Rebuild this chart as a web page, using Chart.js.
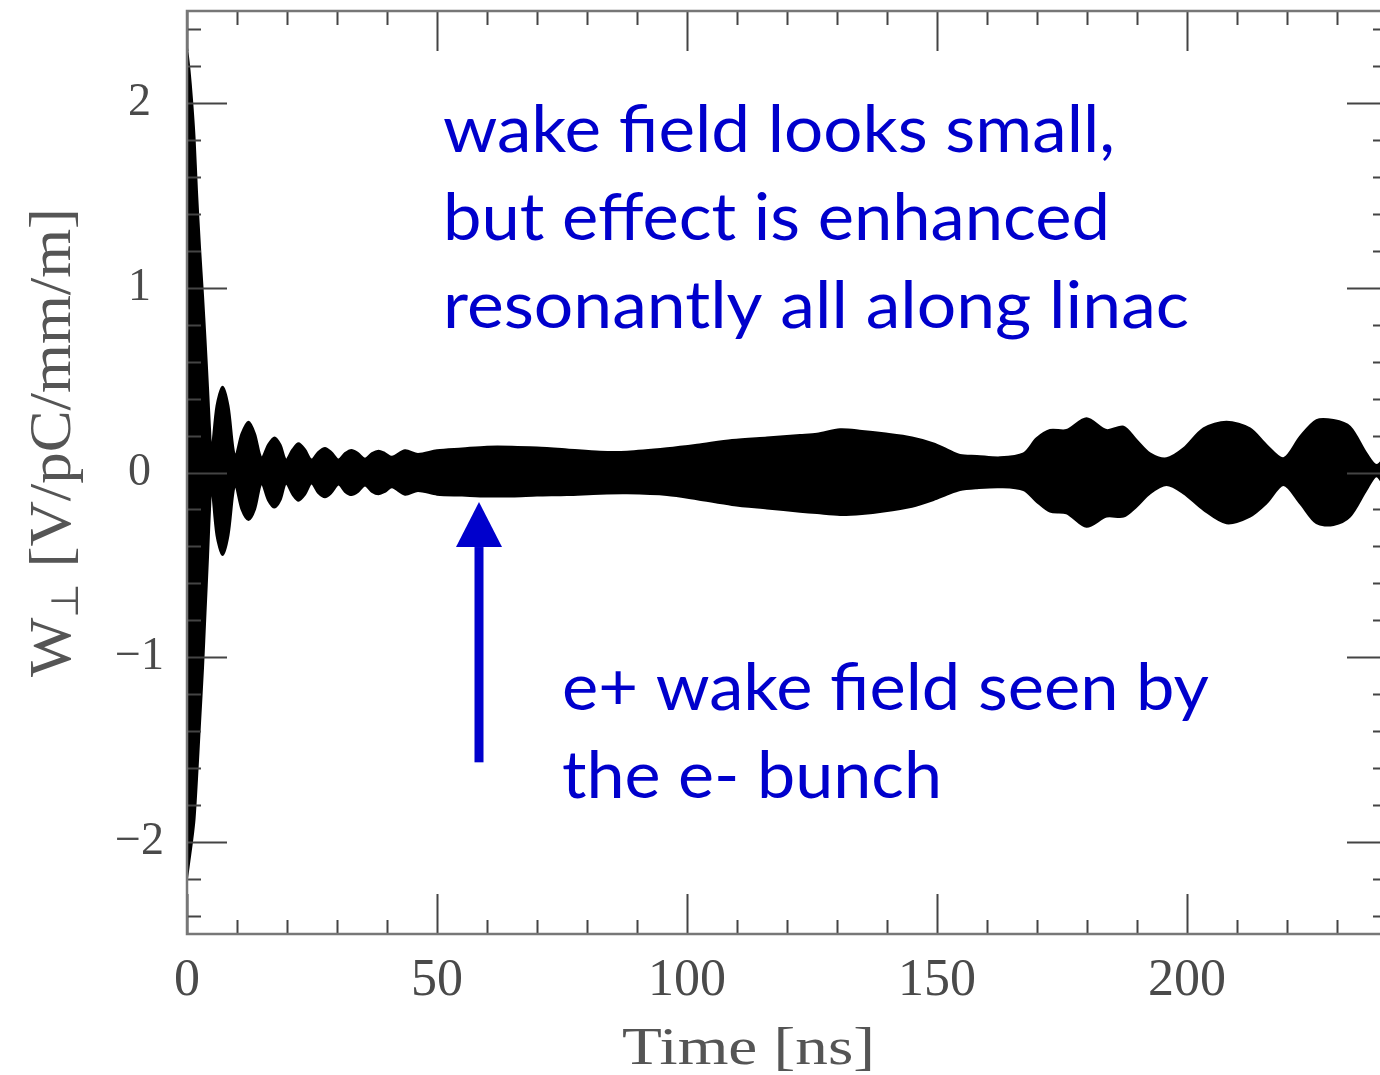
<!DOCTYPE html>
<html>
<head>
<meta charset="utf-8">
<script src="https://cdn.jsdelivr.net/npm/chart.js@4.4.1/dist/chart.umd.min.js"></script>
<style>
  html, body { margin: 0; padding: 0; background: #fff; overflow: hidden; }
  #wake_chart { display: block; }
</style>
</head>
<body>
<canvas id="wake_chart" width="1392" height="1075"></canvas>
<script>
// envelope of the e+ transverse wake
const time_ns = [
  0, 0.5, 1.0, 1.5, 2.0, 2.6, 3.2, 3.7, 4.2, 4.6, 4.9,
  5.9, 7.1, 8.3, 9.6,
  10.9, 12.3, 13.6, 14.9,
  16.2, 17.5, 18.7, 19.8,
  21.1, 22.3, 23.6, 24.9,
  26.2, 27.6, 28.9, 30.3,
  31.6, 32.9, 34.2, 35.6,
  37.0, 38.3, 39.6, 41.0,
  43.6, 46.2,
  50, 55, 60, 65, 70, 76, 82.6, 88, 96, 102, 109,
  116, 122.6, 126, 130.6, 135, 139.3, 145, 149.3, 152,
  154.6, 158, 162.6, 167.3, 169.9,
  172.6, 175.9, 179.9, 183.9, 187.3, 189.9,
  192.6, 195.9, 199.3, 203.3, 207.9, 212.6,
  215.9, 219.3, 222.6, 225.9, 229.3, 232.6,
  235.9, 237.9, 240
];
const upper_env = [
  2.30, 2.18, 2.02, 1.82, 1.52, 1.22, 0.96, 0.72, 0.46, 0.24, 0.12,
  0.36, 0.465, 0.36, 0.09,
  0.21, 0.275, 0.21, 0.08,
  0.15, 0.19, 0.15, 0.07,
  0.125, 0.158, 0.125, 0.07,
  0.11, 0.133, 0.11, 0.07,
  0.105, 0.122, 0.105, 0.075,
  0.105, 0.118, 0.105, 0.085,
  0.12, 0.10,
  0.12, 0.13, 0.14, 0.14, 0.135, 0.125, 0.113, 0.113, 0.131, 0.15, 0.176,
  0.19, 0.203, 0.21, 0.234, 0.225, 0.212, 0.19, 0.158, 0.125,
  0.095, 0.09, 0.082, 0.104, 0.185,
  0.23, 0.23, 0.294, 0.23, 0.248, 0.176,
  0.104, 0.077, 0.131, 0.239, 0.275, 0.239,
  0.149, 0.077, 0.194, 0.284, 0.284, 0.248,
  0.104, 0.04, 0.10
];
const lower_env = [
  -2.20, -2.10, -2.00, -1.88, -1.66, -1.36, -1.06, -0.76, -0.46, -0.20, -0.08,
  -0.34, -0.447, -0.34, -0.07,
  -0.20, -0.257, -0.20, -0.06,
  -0.15, -0.19, -0.15, -0.06,
  -0.12, -0.153, -0.12, -0.06,
  -0.11, -0.134, -0.11, -0.065,
  -0.105, -0.122, -0.105, -0.07,
  -0.105, -0.118, -0.105, -0.08,
  -0.12, -0.10,
  -0.12, -0.125, -0.13, -0.13, -0.125, -0.122, -0.115, -0.113, -0.122, -0.145, -0.176,
  -0.195, -0.212, -0.22, -0.23, -0.225, -0.212, -0.185, -0.149, -0.12,
  -0.095, -0.085, -0.08, -0.095, -0.158,
  -0.212, -0.221, -0.294, -0.239, -0.239, -0.185,
  -0.113, -0.068, -0.113, -0.203, -0.275, -0.239,
  -0.167, -0.068, -0.167, -0.275, -0.284, -0.239,
  -0.095, -0.02, -0.10
];
const x_tick_labels = [0, 50, 100, 150, 200];
const y_tick_labels = [-2, -1, 0, 1, 2];

const axis_font = 'Liberation Serif';
const note_blue = '#0000cc';

function to_points(ys) {
  return time_ns.map((t, i) => ({ x: t, y: ys[i] }));
}

// text squeezed/stretched to the width it has in the picture
function draw_fit(ctx, text, x, y, width, font) {
  ctx.save();
  ctx.font = font;
  const w = ctx.measureText(text).width;
  ctx.translate(x, y);
  ctx.scale(width / w, 1);
  ctx.fillText(text, 0, 0);
  ctx.restore();
}

const frame_plugin = {
  id: 'frame_plugin',
  afterDraw(chart) {
    const ctx = chart.ctx;
    const xs = chart.scales.x;
    const ys = chart.scales.y;
    const { left, right, top, bottom } = chart.chartArea;

    ctx.save();
    // inward ticks on all four sides
    ctx.strokeStyle = '#444';
    ctx.lineWidth = 2;
    ctx.beginPath();
    for (let v = 0; v <= 240; v += 10) {
      const px = Math.round(xs.getPixelForValue(v)) + 0.5;
      const len = v % 50 === 0 ? 40 : 14;
      ctx.moveTo(px, bottom); ctx.lineTo(px, bottom - len);
      ctx.moveTo(px, top); ctx.lineTo(px, top + len);
    }
    for (let k = -12; k <= 12; k++) {
      const py = Math.round(ys.getPixelForValue(k * 0.2)) + 0.5;
      const len = k % 5 === 0 ? 40 : 14;
      ctx.moveTo(left, py); ctx.lineTo(left + len, py);
      ctx.moveTo(right, py); ctx.lineTo(right - len, py);
    }
    ctx.stroke();

    ctx.strokeStyle = '#777';
    ctx.lineWidth = 2.5;
    ctx.strokeRect(left, top, right - left, bottom - top);

    // axis titles
    ctx.fillStyle = '#555';
    ctx.textBaseline = 'alphabetic';
    ctx.textAlign = 'left';
    draw_fit(ctx, 'Time [ns]', 622, 1064, 253, '52px "' + axis_font + '"');

    ctx.save();
    ctx.translate(70, 677);
    ctx.rotate(-Math.PI / 2);
    ctx.font = '60px "' + axis_font + '"';
    const w_w = ctx.measureText('W').width;
    ctx.font = '38px "' + axis_font + '"';
    const perp_w = ctx.measureText('⊥').width;
    ctx.font = '60px "' + axis_font + '"';
    const rest = ' [V/pC/mm/m]';
    const rest_w = ctx.measureText(rest).width;
    const sx = 469 / (w_w + perp_w + rest_w);
    ctx.scale(sx, 1);
    ctx.fillText('W', 0, 0);
    ctx.font = '38px "' + axis_font + '"';
    ctx.fillText('⊥', w_w, 8);
    ctx.font = '60px "' + axis_font + '"';
    ctx.fillText(rest, w_w + perp_w, 0);
    ctx.restore();

    // annotations
    ctx.fillStyle = note_blue;
    const note_font = '66px Lato';
    draw_fit(ctx, 'wake field looks small,', 443, 152, 672, note_font);
    draw_fit(ctx, 'but effect is enhanced', 443, 240, 667, note_font);
    draw_fit(ctx, 'resonantly all along linac', 443, 328, 746, note_font);
    draw_fit(ctx, 'e+ wake field seen by', 562, 710, 647, note_font);
    draw_fit(ctx, 'the e- bunch', 562, 798, 380, note_font);

    const ax = xs.getPixelForValue(58.4);
    const tip = ys.getPixelForValue(-0.16);
    const base = ys.getPixelForValue(-1.57);
    ctx.fillRect(ax - 4.5, tip + 45, 9, base - tip - 45);
    ctx.beginPath();
    ctx.moveTo(ax, tip);
    ctx.lineTo(ax + 23, tip + 45);
    ctx.lineTo(ax - 23, tip + 45);
    ctx.closePath();
    ctx.fill();
    ctx.restore();
  }
};

const wake_chart = document.getElementById('wake_chart');

new Chart(wake_chart, {
  type: 'line',
  data: {
    datasets: [{
      label: 'upper',
      data: to_points(upper_env),
      borderColor: '#000',
      backgroundColor: '#000',
      borderWidth: 2,
      pointRadius: 0,
      tension: 0.3,
      fill: '+1'
    }, {
      label: 'lower',
      data: to_points(lower_env),
      borderColor: '#000',
      backgroundColor: '#000',
      borderWidth: 2,
      pointRadius: 0,
      tension: 0.3,
      fill: false
    }]
  },
  options: {
    responsive: false,
    animation: false,
    events: [],
    layout: { padding: { top: 11, right: 5, left: 0, bottom: 0 } },
    plugins: {
      legend: { display: false },
      tooltip: { enabled: false }
    },
    scales: {
      x: {
        type: 'linear',
        min: 0,
        max: 240,
        afterBuildTicks: s => { s.ticks = x_tick_labels.map(v => ({ value: v })) },
        afterFit: s => { s.height = 141; s.paddingLeft = 0; s.paddingRight = 0 },
        grid: { display: false, drawTicks: false },
        border: { display: false },
        ticks: {
          color: '#4a4a4a',
          padding: 16,
          maxRotation: 0,
          font: { family: axis_font, size: 52 }
        }
      },
      y: {
        min: -2.5,
        max: 2.5,
        afterBuildTicks: s => { s.ticks = y_tick_labels.map(v => ({ value: v })) },
        afterFit: s => { s.width = 187; s.paddingTop = 0; s.paddingBottom = 0 },
        grid: { display: false, drawTicks: false },
        border: { display: false },
        ticks: {
          color: '#4a4a4a',
          padding: 23,
          crossAlign: 'center',
          font: { family: axis_font, size: 46 },
          callback: v => v < 0 ? '−' + Math.abs(v) : String(v)
        }
      }
    }
  },
  plugins: [frame_plugin]
});
</script>
</body>
</html>
